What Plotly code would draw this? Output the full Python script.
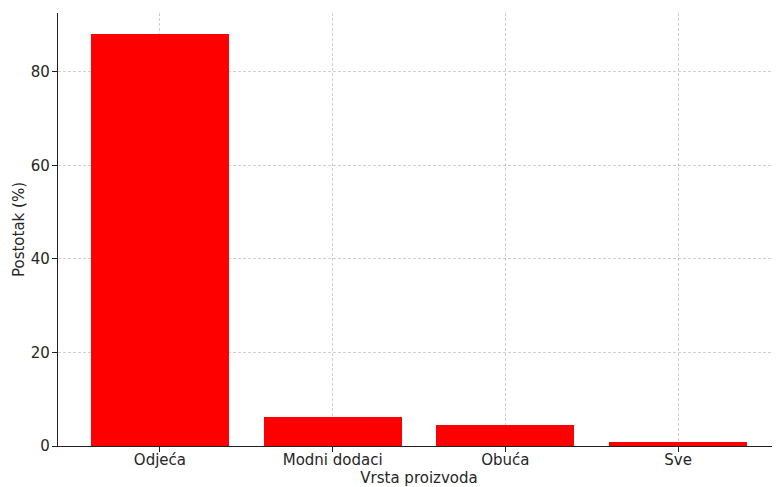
import plotly.graph_objects as go

categories = ["Odjeća", "Modni dodaci", "Obuća", "Sve"]
values = [88.2, 6.3, 4.5, 0.9]
y_ticks = [0, 20, 40, 60, 80]

fig = go.Figure(go.Bar(
    x=list(range(len(categories))), y=values,
    width=0.8, marker=dict(color="#ff0000", line=dict(width=0)),
))

grid = dict(showgrid=True, gridcolor="rgba(170,170,170,0.55)", griddash="3px,2px", gridwidth=0.8)
font = dict(family="DejaVu Sans", size=15, color="#262626")

# page body has an 8px default margin; figure is sized so the plot area lands where the reference has it
fig.update_layout(
    width=780, height=479,
    margin=dict(l=50, r=8, t=5, b=41),
    plot_bgcolor="white", paper_bgcolor="white",
    font=font, showlegend=False, bargap=0,
    xaxis=dict(
        range=[-0.59, 3.59], tickmode="array",
        tickvals=list(range(len(categories))), ticktext=categories,
        showline=True, linecolor="#222", linewidth=1.2,
        ticks="outside", ticklen=5, tickcolor="#222",
        ticklabelstandoff=-5,
        title=dict(text="Vrsta proizvoda", standoff=9, font=font),
        zeroline=False, layer="above traces", automargin=False, **grid,
    ),
    yaxis=dict(
        range=[0, 92.6], tickmode="array", tickvals=y_ticks,
        showline=True, linecolor="#222", linewidth=1.2,
        ticks="outside", ticklen=5, tickcolor="#222",
        ticklabelstandoff=-1,
        title=dict(text="Postotak (%)", standoff=2, font=font),
        zeroline=False, layer="above traces", automargin=False, **grid,
    ),
)

fig.write_html("out.html")
